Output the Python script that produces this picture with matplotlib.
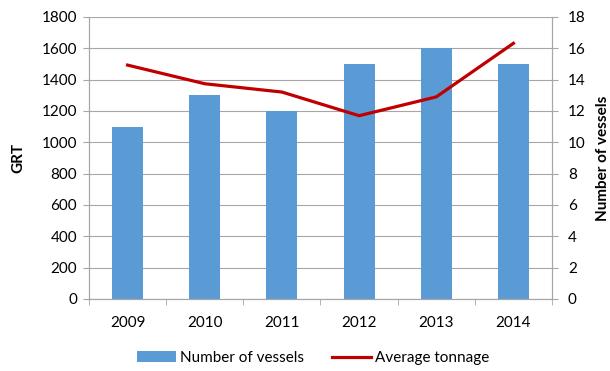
import matplotlib
matplotlib.use("Agg")
import matplotlib.pyplot as plt
import numpy as np

years = ["2009", "2010", "2011", "2012", "2013", "2014"]
vessels = [11, 13, 12, 15, 16, 15]
avg_tonnage = [1493, 1374, 1321, 1170, 1290, 1632]

plt.rcParams['font.family'] = ['Lato', 'DejaVu Sans']
fig = plt.figure(figsize=(6.10, 3.71), dpi=100)
L, R, T, B = 89, 552, 17, 299
ax = fig.add_axes([L/610, 1-B/371, (R-L)/610, (B-T)/371])
ax2 = ax.twinx()

x = np.arange(len(years))
grid_c = "#A6A6A6"
ax2.bar(x, vessels, width=0.4, color="#5B9BD5", label="Number of vessels", zorder=2)
ax.plot(x, avg_tonnage, color="#C00000", lw=2.3, label="Average tonnage", zorder=3)
ax.set_zorder(ax2.get_zorder() + 1)
ax.patch.set_visible(False)

ax.set_xlim(-0.5, 5.5)
ax.set_ylim(0, 1800)
ax.set_yticks(range(0, 1801, 200))
ax2.set_ylim(0, 18)
ax2.set_yticks(range(0, 19, 2))
ax2.yaxis.grid(True, color=grid_c, lw=0.8)
ax2.set_axisbelow(True)

fs = 11
ax.set_xticks(x)
ax.set_xticklabels(years)
ax.set_xticks(np.arange(-0.5, 6, 1), minor=True)
ax.tick_params(axis='x', which='major', length=0, pad=12, labelsize=fs)
ax.tick_params(axis='x', which='minor', length=4, color=grid_c)
ax.tick_params(axis='y', length=4.5, color=grid_c, labelsize=fs, pad=4)
ax2.tick_params(axis='y', length=4.5, color=grid_c, labelsize=fs, pad=7)
for a in (ax, ax2):
    for s in a.spines.values():
        s.set_color(grid_c)
    a.spines['top'].set_visible(False)

ax.set_ylabel("GRT", fontweight='bold', fontsize=11)
ax.yaxis.set_label_coords((25 - L) / (R - L), 0.5)
ax2.set_ylabel("Number of vessels", fontweight='bold', fontsize=11)
ax2.yaxis.set_label_coords((596 - L) / (R - L), 0.5)

h1, l1 = ax2.get_legend_handles_labels()
h2, l2 = ax.get_legend_handles_labels()
fig.legend(h1 + h2, l1 + l2, loc='center', bbox_to_anchor=(313/610, 1-358/371), ncol=2,
           frameon=False, fontsize=fs, handlelength=2.6, handleheight=0.7,
           columnspacing=1.8, handletextpad=0.25, borderpad=0, borderaxespad=0)

fig.savefig("out.png", dpi=100)
